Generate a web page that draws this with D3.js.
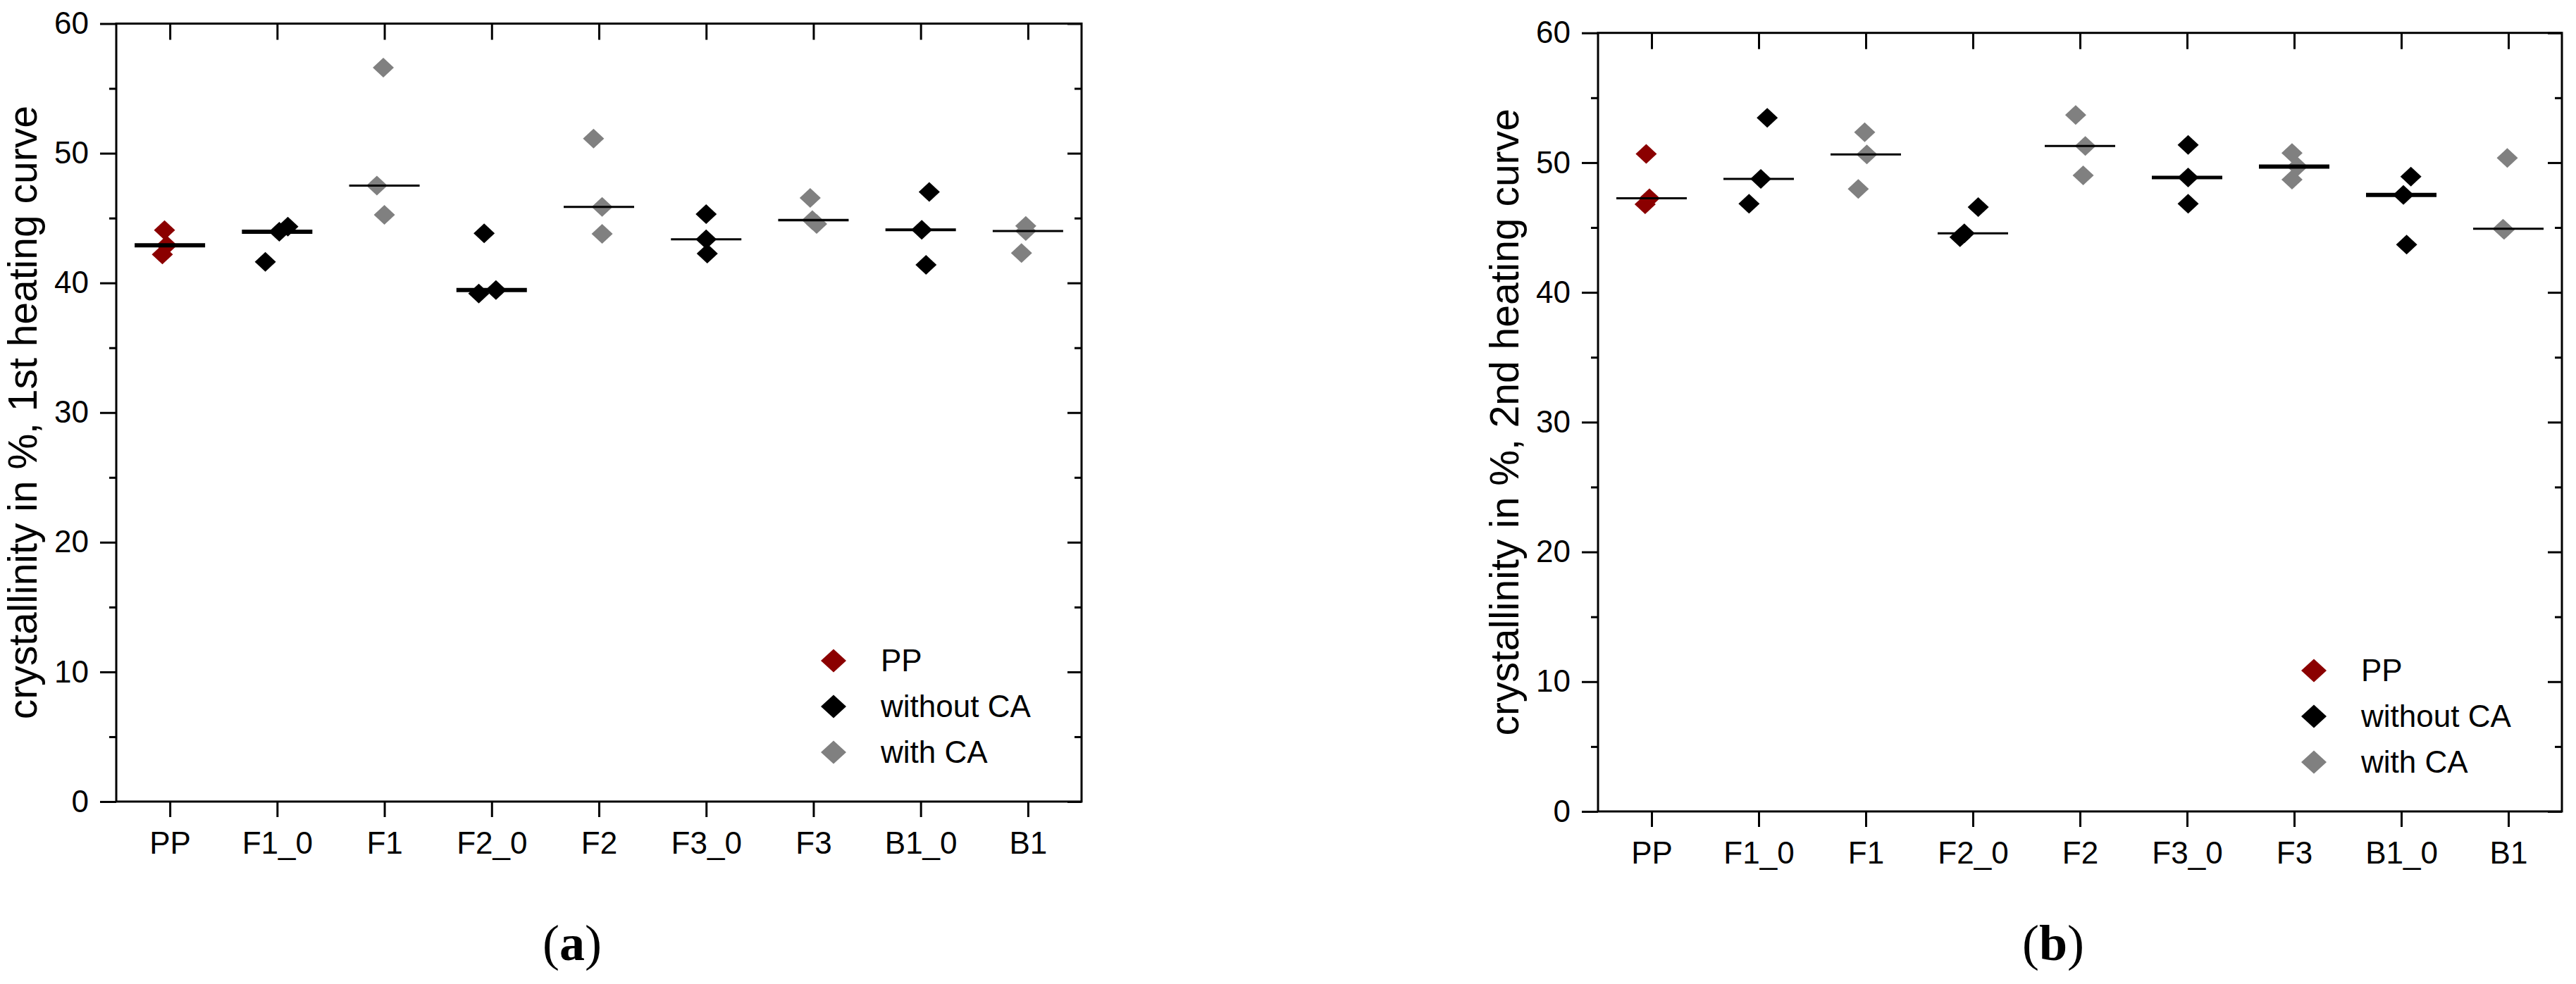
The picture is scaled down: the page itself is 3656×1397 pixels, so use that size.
<!DOCTYPE html>
<html lang="en">
<head>
    <meta charset="UTF-8">
    <title>Crystallinity, 1st and 2nd heating curve</title>
    <style>
        html, body {
            margin: 0;
            padding: 0;
            background: #fff;
        }
        svg {
            display: block;
            font-family: "Liberation Sans", Arial, Helvetica, sans-serif;
        }
        .tick line {
            stroke: #000;
            stroke-width: 3;
        }
        .tick text {
            fill: #000;
        }
        .caption {
            font-family: "Liberation Serif", "Times New Roman", serif;
        }
    </style>
    <script src="https://d3js.org/d3.v7.min.js"></script>
</head>
<body>
    <svg id="chart" width="3656" height="1397"></svg>
    <script>
        // samples on the x axis
        const categories = ["PP", "F1_0", "F1", "F2_0", "F2", "F3_0", "F3", "B1_0", "B1"];
        const seriesOf = ["PP", "without CA", "with CA", "without CA", "with CA", "without CA", "with CA", "without CA", "with CA"];
        const legendLabels = ["PP", "without CA", "with CA"];

        // crystallinity in %, three samples per material
        const firstHeating = [
            [44.07, 42.9, 42.2],
            [41.63, 43.95, 44.34],
            [56.6, 47.51, 45.25],
            [43.83, 39.18, 39.45],
            [51.13, 45.86, 43.78],
            [45.3, 43.36, 42.26],
            [46.55, 44.85, 44.55],
            [47.02, 44.1, 41.39],
            [44.4, 44.0, 42.3]
        ];
        // small horizontal spread of the points, in category steps
        const firstJitter = [
            [-0.05, -0.03, -0.07],
            [-0.11, 0.02, 0.10],
            [-0.01, -0.07, 0.0],
            [-0.07, -0.12, 0.04],
            [-0.05, 0.03, 0.03],
            [0.0, 0.0, 0.01],
            [-0.03, -0.01, 0.03],
            [0.08, 0.01, 0.05],
            [-0.02, -0.02, -0.06]
        ];

        const secondHeating = [
            [50.68, 47.25, 46.79],
            [53.45, 48.75, 46.83],
            [52.35, 50.63, 47.97],
            [46.57, 44.55, 44.25],
            [53.67, 51.28, 49.02],
            [51.37, 48.86, 46.83],
            [50.74, 49.7, 48.69],
            [48.93, 47.51, 43.68],
            [50.36, 44.9, 44.82]
        ];
        const secondJitter = [
            [-0.05, -0.02, -0.06],
            [0.08, 0.02, -0.09],
            [-0.01, 0.01, -0.07],
            [0.05, -0.08, -0.12],
            [-0.04, 0.05, 0.03],
            [0.01, 0.01, 0.01],
            [-0.02, 0.03, -0.02],
            [0.09, 0.02, 0.05],
            [-0.01, -0.05, -0.04]
        ];

        const yMajorTicks = [0, 10, 20, 30, 40, 50, 60];
        const yMinorTicks = [5, 15, 25, 35, 45, 55];

        // styling
        const colors = { "PP": "#8b0000", "without CA": "#000000", "with CA": "#808080" };
        const medianWidthFirst = [6, 6, 3, 6, 3, 3, 3.5, 4, 3];
        const medianWidthSecond = [3, 3, 3, 3, 3, 5, 6, 6, 3];

        const svg = d3.select("#chart");

        function diamond(w, h) {
            return `M0,${-h / 2}L${w / 2},0L0,${h / 2}L${-w / 2},0Z`;
        }

        function drawPanel(box, values, jitter, medianWidth, yTitle, captionLetter) {
            const g = svg.append("g");

            const x = d3.scalePoint()
                .domain(categories)
                .range([box.left, box.right])
                .padding(0.5);
            const y = d3.scaleLinear()
                .domain([0, 60])
                .range([box.bottom, box.top]);
            const step = x.step();

            // ticks
            g.append("g")
                .attr("transform", `translate(${box.left},0)`)
                .call(d3.axisLeft(y).tickValues(yMajorTicks).tickSize(23).tickPadding(16).tickFormat(d3.format("d")))
                .call(a => a.select(".domain").remove())
                .selectAll("text").attr("font-size", 44).attr("font-family", "Liberation Sans, Arial, sans-serif");
            g.append("g")
                .attr("transform", `translate(${box.left},0)`)
                .call(d3.axisLeft(y).tickValues(yMinorTicks).tickSize(10).tickFormat(""))
                .call(a => a.select(".domain").remove());
            g.append("g")
                .attr("transform", `translate(${box.right},0)`)
                .call(d3.axisRight(y).tickValues(yMajorTicks).tickSize(-20).tickFormat(""))
                .call(a => a.select(".domain").remove());
            g.append("g")
                .attr("transform", `translate(${box.right},0)`)
                .call(d3.axisRight(y).tickValues(yMinorTicks).tickSize(-10).tickFormat(""))
                .call(a => a.select(".domain").remove());
            g.append("g")
                .attr("transform", `translate(0,${box.bottom})`)
                .call(d3.axisBottom(x).tickSize(22).tickPadding(21))
                .call(a => a.select(".domain").remove())
                .selectAll("text").attr("font-size", 44).attr("font-family", "Liberation Sans, Arial, sans-serif");
            g.append("g")
                .attr("transform", `translate(0,${box.top})`)
                .call(d3.axisTop(x).tickSize(-23).tickFormat(""))
                .call(a => a.select(".domain").remove());

            // frame
            g.append("rect")
                .attr("x", box.left)
                .attr("y", box.top)
                .attr("width", box.right - box.left)
                .attr("height", box.bottom - box.top)
                .attr("fill", "none")
                .attr("stroke", "#000")
                .attr("stroke-width", 3);

            // points
            categories.forEach(function (cat, i) {
                values[i].forEach(function (v, k) {
                    g.append("path")
                        .attr("d", diamond(30, 28))
                        .attr("transform", `translate(${x(cat) + jitter[i][k] * step},${y(v)})`)
                        .attr("fill", colors[seriesOf[i]]);
                });
            });

            // median lines
            categories.forEach(function (cat, i) {
                const m = d3.median(values[i]);
                g.append("line")
                    .attr("x1", x(cat) - 50)
                    .attr("x2", x(cat) + 50)
                    .attr("y1", y(m))
                    .attr("y2", y(m))
                    .attr("stroke", "#000")
                    .attr("stroke-width", medianWidth[i]);
            });

            // y title
            g.append("text")
                .attr("transform", `translate(${box.left - 113},${(box.top + box.bottom) / 2}) rotate(-90)`)
                .attr("text-anchor", "middle")
                .attr("font-size", 57)
                .text(yTitle);

            // legend
            legendLabels.forEach(function (label, i) {
                const ly = box.bottom - 200 + i * 65;
                g.append("path")
                    .attr("d", diamond(36, 33))
                    .attr("transform", `translate(${box.right - 352},${ly})`)
                    .attr("fill", colors[label]);
                g.append("text")
                    .attr("x", box.right - 285)
                    .attr("y", ly)
                    .attr("dy", "0.35em")
                    .attr("font-size", 44)
                    .text(label);
            });

            // caption
            const cap = g.append("text")
                .attr("class", "caption")
                .attr("x", (box.left + box.right) / 2 - 38)
                .attr("y", 1363)
                .attr("text-anchor", "middle")
                .attr("font-size", 72);
            cap.append("tspan").text("(");
            cap.append("tspan").attr("font-weight", "bold").text(captionLetter);
            cap.append("tspan").text(")");
        }

        drawPanel({ left: 165, right: 1535, top: 33.5, bottom: 1138 }, firstHeating, firstJitter, medianWidthFirst,
            "crystallinity in %, 1st heating curve", "a");
        drawPanel({ left: 2268, right: 3636, top: 46.7, bottom: 1152 }, secondHeating, secondJitter, medianWidthSecond,
            "crystallinity in %, 2nd heating curve", "b");
    </script>
</body>
</html>
